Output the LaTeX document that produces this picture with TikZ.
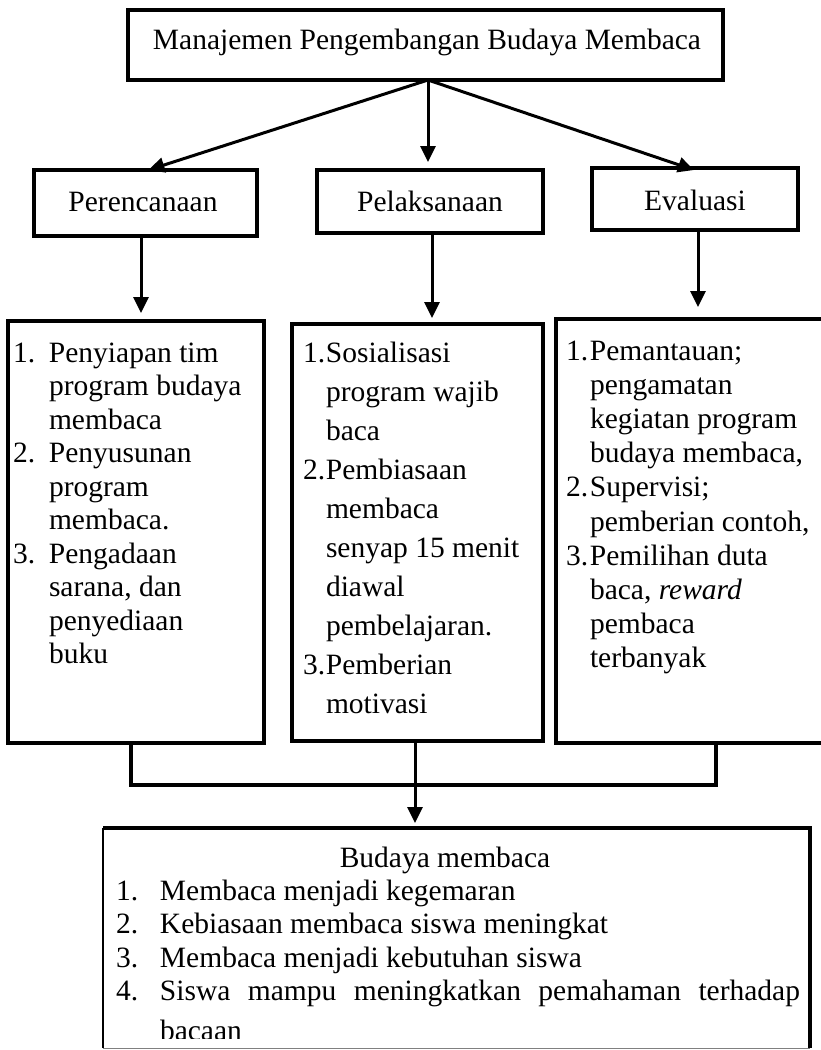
\documentclass[tikz,border=0pt]{standalone}
\usepackage{fontspec}
\setmainfont{Liberation Serif}
\usetikzlibrary{arrows.meta,calc}
\begin{document}
\begin{tikzpicture}[x=1pt,y=-1pt,
  box/.style={draw, line width=3.4pt, inner sep=0pt, outer sep=0pt},
  shape box/.style={inner sep=0pt, outer sep=0pt},
  arr/.style={line width=3pt, -{Triangle[length=16pt,width=15pt]}},
  conn/.style={line width=3.4pt},
  lbl/.style={inner sep=0pt, outer sep=0pt, anchor=base, font=\fontsize{29.5}{33.5}\selectfont},
  listtxt/.style={inner sep=0pt, outer sep=0pt, anchor=base west},
]
\useasboundingbox (0,0) rectangle (821,1050);

% level 1
\node[box, minimum width=595pt, minimum height=70pt] (top) at (425.5,45) {};
\node[lbl] (toptext) at (427,49) {Manajemen Pengembangan Budaya Membaca};
\coordinate (topsrc) at (428,80);

% level 2
\node[box, minimum width=223pt, minimum height=66pt] (perB) at (145.5,203) {};
\node[lbl] (perT) at (143,211) {Perencanaan};
\node[box, minimum width=226pt, minimum height=63pt] (pelB) at (430,201.5) {};
\node[lbl] (pelT) at (430,211) {Pelaksanaan};
\node[box, minimum width=206pt, minimum height=62pt] (evaB) at (695,199) {};
\node[lbl] (evaT) at (695,210) {Evaluasi};

\draw[arr] (topsrc) -- ($(perB.north)+(3,0)$);
\draw[arr, shorten >=8pt] (topsrc) -- (topsrc |- pelB.north);
\draw[arr] (topsrc) -- ($(evaB.north)+(-1,2)$);

% level 3 boxes
\node[box, minimum width=256pt, minimum height=422pt] (plan) at (136,532) {};
\node[box, minimum width=251pt, minimum height=417pt] (pel) at (417.5,532.5) {};
\node[box, minimum width=279pt, minimum height=424pt] (eva) at (695.5,531) {};

\coordinate (al) at (141,0);
\coordinate (am) at (432,0);
\coordinate (ar) at (698,0);
\draw[arr, shorten >=8pt] (perB.south -| al) -- (plan.north -| al);
\draw[arr, shorten >=6pt] (pelB.south -| am) -- (pel.north -| am);
\draw[arr, shorten >=12pt] (evaB.south -| ar) -- (eva.north -| ar);

% texts of level 3
\node[listtxt, font=\fontsize{29.5}{33.5}\selectfont] (planT) at (13,362) {%
\begin{tabular}[t]{@{}l@{}}
\makebox[36pt][l]{1.}Penyiapan tim\\
\hspace*{36pt}program budaya\\
\hspace*{36pt}membaca\\
\makebox[36pt][l]{2.}Penyusunan\\
\hspace*{36pt}program\\
\hspace*{36pt}membaca.\\
\makebox[36pt][l]{3.}Pengadaan\\
\hspace*{36pt}sarana, dan\\
\hspace*{36pt}penyediaan\\
\hspace*{36pt}buku
\end{tabular}};

\node[listtxt, font=\fontsize{29.5}{39}\selectfont] (pelT2) at (303,362) {%
\begin{tabular}[t]{@{}l@{}}
\makebox[23pt][l]{1.}Sosialisasi\\
\hspace*{23pt}program wajib\\
\hspace*{23pt}baca\\
\makebox[23pt][l]{2.}Pembiasaan\\
\hspace*{23pt}membaca\\
\hspace*{23pt}senyap 15 menit\\
\hspace*{23pt}diawal\\
\hspace*{23pt}pembelajaran.\\
\makebox[23pt][l]{3.}Pemberian\\
\hspace*{23pt}motivasi
\end{tabular}};

\node[listtxt, font=\fontsize{29.5}{34.2}\selectfont] (evaT2) at (566,360) {%
\begin{tabular}[t]{@{}l@{}}
\makebox[24pt][l]{1.}Pemantauan;\\
\hspace*{24pt}pengamatan\\
\hspace*{24pt}kegiatan program\\
\hspace*{24pt}budaya membaca,\\
\makebox[24pt][l]{2.}Supervisi;\\
\hspace*{24pt}pemberian contoh,\\
\makebox[24pt][l]{3.}Pemilihan duta\\
\hspace*{24pt}baca, \textit{reward}\\
\hspace*{24pt}pembaca\\
\hspace*{24pt}terbanyak
\end{tabular}};

% connectors to result
\coordinate (jl) at (131,785);
\coordinate (jm) at (415,785);
\coordinate (jr) at (716,785);
\draw[conn] (plan.south -| jl) -- (jl) -- (jr) -- (eva.south -| jr);
\node[shape box, minimum width=707pt, minimum height=220pt] (res) at (456.5,938) {};
\draw[arr, shorten >=5pt] (pel.south -| jm) -- (res.north -| jm);

% result box
\draw[line width=3.4pt] (res.north west) -- (res.north east) -- (res.south east);
\draw[line width=2pt] (res.south west) -- (res.north west);
\draw[line width=1pt, gray] (res.south west) -- (res.south east);
\node[lbl] (resT) at (445,867) {Budaya membaca};
\begin{scope}
\clip (103,828) rectangle (810,1038);
\node[listtxt, font=\fontsize{29.5}{33.5}\selectfont] (resL) at (116,900) {%
\begin{tabular}[t]{@{}l@{}}
\makebox[44pt][l]{1.}Membaca menjadi kegemaran\\
\makebox[44pt][l]{2.}Kebiasaan membaca siswa meningkat\\
\makebox[44pt][l]{3.}Membaca menjadi kebutuhan siswa\\
\makebox[44pt][l]{4.}\makebox[640pt][s]{Siswa mampu meningkatkan pemahaman terhadap}\\[6pt]
\hspace*{44pt}bacaan
\end{tabular}};
\end{scope}
\end{tikzpicture}
\end{document}
